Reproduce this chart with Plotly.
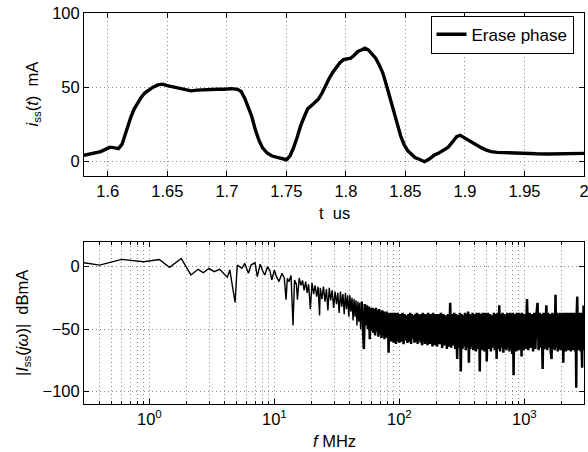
import plotly.graph_objects as go

# ---------------- time-domain data (t in us, current in mA) ----------------
t_us = [1.580, 1.585, 1.590, 1.594, 1.598, 1.602, 1.606, 1.609, 1.612, 1.616,
        1.619, 1.622, 1.625, 1.628, 1.631, 1.634, 1.638, 1.642, 1.646, 1.650,
        1.655, 1.660, 1.665, 1.670, 1.675, 1.680, 1.686, 1.692, 1.698, 1.704,
        1.709, 1.712, 1.715, 1.718, 1.721, 1.724, 1.727, 1.730, 1.734, 1.738,
        1.742, 1.746, 1.750, 1.753, 1.756, 1.759, 1.762, 1.765, 1.768, 1.771,
        1.774, 1.777, 1.780, 1.783, 1.786, 1.789, 1.792, 1.795, 1.798, 1.801,
        1.804, 1.807, 1.810, 1.813, 1.816, 1.819, 1.822, 1.825, 1.828, 1.831,
        1.834, 1.837, 1.840, 1.843, 1.846, 1.849, 1.852, 1.855, 1.858, 1.862,
        1.866, 1.870, 1.874, 1.878, 1.882, 1.886, 1.890, 1.893, 1.896, 1.899,
        1.902, 1.906, 1.910, 1.914, 1.918, 1.922, 1.927, 1.932, 1.940, 1.950,
        1.960, 1.970, 1.980, 1.990, 2.000]
i_ss_mA = [4.0, 5.0, 6.0, 6.5, 8.0, 9.5, 9.0, 8.5, 11.5, 22.0,
           29.0, 35.0, 39.5, 43.0, 46.0, 48.0, 50.0, 51.5, 52.0, 51.0,
           50.0, 49.5, 48.5, 47.5, 48.0, 48.3, 48.5, 48.6, 48.6, 49.0,
           48.5, 47.0, 42.5, 36.5, 30.0, 21.0, 14.0, 9.0, 5.5, 3.5,
           2.8, 2.0, 1.0, 3.5, 9.0, 16.0, 24.0, 30.0, 35.5, 37.5,
           39.5, 42.0, 46.0, 51.5, 56.0, 60.0, 63.5, 66.5, 68.5, 69.0,
           69.5, 71.5, 74.0, 75.0, 76.3, 75.0, 72.5, 69.5, 65.0, 59.5,
           51.5, 43.5, 34.0, 25.7, 17.0, 11.0, 7.0, 4.5, 2.5, 1.2,
           -0.3, 1.5, 4.0, 5.5, 7.5, 9.5, 13.5, 16.5, 17.5, 16.0,
           14.5, 12.5, 11.0, 9.0, 7.5, 6.5, 6.0, 5.8, 5.5, 5.2,
           5.0, 4.9, 5.0, 5.0, 5.3]

# ---------------- spectrum data (f in MHz, |I| in dBmA) ----------------
f_low = [0.3, 0.4, 0.6, 0.9, 1.2, 1.45, 1.8, 2.15, 2.45, 2.7,
         3.0, 3.3, 3.65, 4.2, 4.4, 4.85, 5.05, 5.5, 5.8, 6.2,
         6.5, 7.0, 7.3, 7.7, 8.1, 8.4, 8.8, 9.2, 9.55, 10.0,
         10.4, 10.9, 11.5, 12.0, 12.4, 12.7, 13.1, 13.6, 14.1, 14.5,
         15.0, 15.3, 15.8, 16.3, 16.8, 17.3, 17.8, 18.3, 18.8, 19.4,
         20.0, 20.6, 21.2, 21.8, 22.4, 23.0, 23.3, 24.0, 24.7, 25.4,
         26.1, 26.8, 27.5, 28.2, 29.0, 29.8, 30.6, 31.4, 32.2, 33.0,
         33.8, 34.6, 35.4, 36.2, 37.0, 37.8, 38.6, 39.4, 40.2, 41.0,
         41.8, 42.6, 43.4, 44.2, 45.0, 45.8, 46.6, 47.4, 48.2, 49.0]
mag_low = [3.2, 1.3, 5.9, 4.0, 5.8, -0.5, 6.6, -6.6, -2.1, -4.8,
           -1.3, -4.0, -2.1, -8.4, -2.6, -28.6, 1.3, -1.3, 2.6, -5.3,
           1.3, 3.2, -7.9, 2.1, -4.0, -6.6, 0.0, -3.0, -10.6, -2.6,
           -8.0, -11.9, -5.3, -9.0, -26.4, -9.3, -11.9, -7.0, -47.0, -10.6,
           -14.0, -26.4, -9.0, -15.0, -11.0, -19.0, -12.0, -21.0, -14.0, -34.0,
           -13.0, -22.0, -15.0, -24.0, -16.0, -39.0, -17.0, -26.0, -16.0, -28.0,
           -18.0, -35.0, -17.0, -27.0, -19.0, -33.0, -20.0, -30.0, -21.0, -37.0,
           -20.0, -32.0, -22.0, -38.0, -21.0, -34.0, -23.0, -40.0, -23.0, -36.0,
           -25.0, -43.0, -26.0, -40.0, -27.0, -47.0, -28.0, -44.0, -29.0, -50.0]

f_50 = [50, 51, 52, 53, 54, 55, 56, 57, 58, 59,
        60, 61, 62, 63, 64, 65, 66, 67, 68, 69,
        70, 71, 72, 73, 74, 75, 76, 77, 78, 79,
        80, 81, 82, 83, 84, 85, 86, 87, 88, 89,
        90, 91, 92, 93, 94, 95, 96, 97, 98, 99]
mag_50 = [-28, -44, -66, -30, -47, -31, -50, -32, -58, -33,
          -51, -33, -53, -34, -55, -33, -52, -35, -56, -34,
          -54, -36, -57, -35, -55, -36, -58, -37, -56, -36,
          -57, -37, -69, -38, -58, -37, -60, -38, -57, -37,
          -61, -38, -59, -37, -62, -38, -58, -37, -60, -38]

f_100 = [100, 102, 104, 106, 108, 110, 112, 114, 116, 118,
         120, 122, 124, 126, 128, 130, 132, 134, 136, 138,
         140, 142, 144, 146, 148, 150, 152, 154, 156, 158,
         160, 162, 164, 166, 168, 170, 172, 174, 176, 178,
         180, 182, 184, 186, 188, 190, 192, 194, 196, 198]
mag_100 = [-61, -38, -60, -37, -62, -38, -59, -39, -61, -38,
           -60, -37, -62, -38, -58, -39, -61, -38, -60, -37,
           -62, -38, -59, -39, -61, -38, -63, -37, -60, -38,
           -62, -39, -60, -38, -63, -37, -61, -38, -62, -39,
           -60, -38, -64, -37, -61, -38, -63, -39, -62, -38]

f_200 = [200, 205, 210, 215, 220, 225, 230, 235, 240, 245,
         250, 255, 260, 265, 270, 275, 280, 285, 290, 295,
         300, 305, 310, 315, 320, 325, 330, 335, 340, 345,
         350, 355, 360, 365, 370, 375, 380, 385, 390, 395,
         400, 405, 410, 415, 420, 425, 430, 435, 440, 445,
         450, 455, 460, 465, 470, 475, 480, 485, 490, 495]
mag_200 = [-64, -38, -62, -37, -65, -38, -63, -39, -66, -38,
           -64, -29, -65, -38, -63, -37, -66, -38, -74, -39,
           -65, -37, -84, -38, -66, -39, -64, -37, -67, -38,
           -65, -36, -77, -38, -66, -39, -64, -37, -67, -38,
           -65, -39, -68, -37, -66, -38, -64, -37, -84, -38,
           -66, -39, -67, -37, -65, -38, -68, -37, -66, -38]

f_500 = [500, 510, 520, 530, 540, 550, 560, 570, 580, 590,
         600, 610, 620, 630, 640, 650, 660, 670, 680, 690,
         700, 710, 720, 730, 740, 750, 760, 770, 780, 790,
         800, 810, 820, 830, 840, 850, 860, 870, 880, 890,
         900, 910, 920, 930, 940, 950, 960, 970, 980, 990]
mag_500 = [-76, -37, -66, -38, -68, -39, -65, -37, -67, -38,
           -74, -37, -66, -31, -68, -38, -65, -37, -69, -38,
           -66, -39, -67, -37, -65, -38, -68, -37, -66, -38,
           -70, -37, -87, -38, -66, -39, -68, -37, -65, -38,
           -67, -37, -66, -38, -69, -72, -37, -66, -38, -67]

f_1000 = [1000, 1025, 1050, 1075, 1100, 1125, 1150, 1175, 1200, 1225,
          1250, 1275, 1300, 1325, 1350, 1375, 1400, 1425, 1450, 1475,
          1500, 1525, 1550, 1575, 1600, 1625, 1650, 1675, 1700, 1725,
          1750, 1775, 1800, 1825, 1850, 1875, 1900, 1925, 1950, 1975,
          2000, 2025, 2050, 2075, 2100, 2125, 2150, 2175, 2200, 2225,
          2250, 2275, 2300, 2325, 2350, 2375, 2400, 2425, 2450, 2475,
          2500, 2525, 2550, 2575, 2600, 2625, 2650, 2675, 2700, 2725,
          2750, 2775, 2800, 2825, 2850, 2875, 2900, 2925, 2950, 2975,
          3000]
mag_1000 = [-38, -66, -26, -67, -37, -65, -38, -68, -37, -66,
            -38, -29, -67, -37, -65, -38, -82, -37, -66, -38,
            -31, -67, -37, -65, -38, -68, -74, -37, -66, -38,
            -67, -22.5, -65, -37, -68, -38, -66, -37, -67, -38,
            -65, -37, -77, -38, -66, -37, -68, -38, -65, -37,
            -67, -38, -66, -37, -68, -38, -65, -37, -67, -38,
            -66, -37, -68, -38, -97, -37, -24, -66, -38, -67,
            -37, -65, -38, -68, -37, -66, -81, -38, -67, -31,
            -65]

# ---------------- ticks / labels ----------------
t_tickvals = [1.6, 1.65, 1.7, 1.75, 1.8, 1.85, 1.9, 1.95, 2.0]
t_ticktext = ["1.6", "1.65", "1.7", "1.75", "1.8", "1.85", "1.9", "1.95", "2"]
i_tickvals = [0, 50, 100]
f_tickvals = [1, 10, 100, 1000]
f_ticktext = ["10<sup>0</sup>", "10<sup>1</sup>", "10<sup>2</sup>", "10<sup>3</sup>"]
f_minor = [0.4, 0.5, 0.6, 0.7, 0.8, 0.9,
           2, 3, 4, 5, 6, 7, 8, 9,
           20, 30, 40, 50, 60, 70, 80, 90,
           200, 300, 400, 500, 600, 700, 800, 900,
           2000, 3000]
m_tickvals = [-100, -50, 0]

freq_lo = f_low + f_50[:1]
mag_lo = mag_low + mag_50[:1]
freq_hi = f_50 + f_100 + f_200 + f_500 + f_1000
mag_hi = mag_50 + mag_100 + mag_200 + mag_500 + mag_1000

FONT = "Liberation Sans, Arial, Helvetica, sans-serif"
GRID = "#8a8a8a"
GDASH = "1px,3px"

fig = go.Figure()
fig.add_trace(go.Scatter(x=t_us, y=i_ss_mA, mode="lines", name="Erase phase",
                         line=dict(color="black", width=3.4),
                         xaxis="x", yaxis="y"))
fig.add_trace(go.Scatter(x=freq_lo, y=mag_lo, mode="lines", showlegend=False,
                         line=dict(color="black", width=1.4),
                         xaxis="x2", yaxis="y2"))
fig.add_trace(go.Scatter(x=freq_hi, y=mag_hi, mode="lines", showlegend=False,
                         line=dict(color="black", width=2.5),
                         xaxis="x2", yaxis="y2"))

common = dict(showline=True, linecolor="black", linewidth=1, mirror="ticks",
              ticks="inside", ticklen=5, tickcolor="black", tickwidth=1,
              showgrid=True, gridcolor=GRID, griddash=GDASH, gridwidth=1,
              zeroline=False, automargin=False, ticklabeloverflow="allow",
              tickfont=dict(family=FONT, size=16.5, color="black"))

fig.update_layout(
    template="none",
    width=588, height=452,
    margin=dict(l=84, r=4, t=13, b=48, autoexpand=False),
    paper_bgcolor="white", plot_bgcolor="white",
    font=dict(family=FONT, size=16, color="black"),
    xaxis=dict(domain=[0, 1], range=[1.58, 2.0], anchor="y",
               tickmode="array", tickvals=t_tickvals, ticktext=t_ticktext, **common),
    yaxis=dict(domain=[0.583, 1.0], range=[-10, 100], anchor="x",
               tickmode="array", tickvals=i_tickvals, **common),
    xaxis2=dict(domain=[0, 1], type="log", range=[-0.5229, 3.4771], anchor="y2",
                tickmode="array", tickvals=f_tickvals, ticktext=f_ticktext,
                minor=dict(tickmode="array", tickvals=f_minor, ticks="inside",
                           ticklen=3, tickcolor="black", showgrid=True,
                           gridcolor=GRID, griddash=GDASH, gridwidth=1),
                **common),
    yaxis2=dict(domain=[0, 0.415], range=[-110, 20], anchor="x2",
                tickmode="array", tickvals=m_tickvals, **common),
    showlegend=True,
    legend=dict(x=0.979, y=0.993, xanchor="right", yanchor="top",
                bgcolor="white", bordercolor="black", borderwidth=1,
                font=dict(family=FONT, size=17, color="black"),
                itemwidth=30, tracegroupgap=0),
    annotations=[
        dict(text="<i>i</i><sub>ss</sub>(<i>t</i>)\u00a0\u00a0mA", textangle=-90,
             xref="paper", yref="paper", x=0, y=0.7916, xshift=-51,
             xanchor="center", yanchor="middle", showarrow=False,
             font=dict(family=FONT, size=16.5, color="black")),
        dict(text="|<i>I</i><sub>ss</sub>(<i>j\u03c9</i>)|\u00a0\u00a0dBmA", textangle=-90,
             xref="paper", yref="paper", x=0, y=0.207, xshift=-61,
             xanchor="center", yanchor="middle", showarrow=False,
             font=dict(family=FONT, size=16.5, color="black")),
        dict(text="t\u00a0\u00a0us", xref="paper", yref="paper", x=0.5, y=0.4885,
             xanchor="center", yanchor="middle", showarrow=False,
             font=dict(family=FONT, size=16.5, color="black")),
        dict(text="<i>f</i>\u00a0MHz", xref="paper", yref="paper", x=0.5, y=-0.0946,
             xanchor="center", yanchor="middle", showarrow=False,
             font=dict(family=FONT, size=16.5, color="black")),
    ],
)

fig.write_html("out.html", config={"displayModeBar": False},
               post_script="document.body.style.margin='0';document.body.style.overflow='hidden';")
